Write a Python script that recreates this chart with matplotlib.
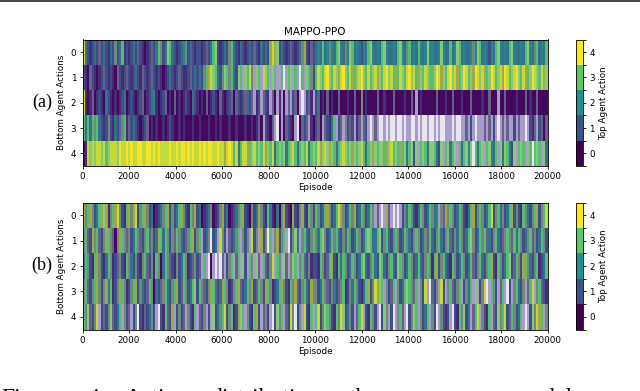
import numpy as np
import matplotlib
matplotlib.use("Agg")
import matplotlib.pyplot as plt
from matplotlib.colors import ListedColormap, BoundaryNorm
from matplotlib.cm import ScalarMappable
from matplotlib.lines import Line2D

title = "MAPPO-PPO"
xlabel = "Episode"
ylabel = "Bottom Agent Actions"
cbar_label = "Top Agent Action"
actions = [0, 1, 2, 3, 4]
xticks = list(range(0, 20001, 2000))
band_colors = ["#440154", "#3b528b", "#21918c", "#5ec962", "#fde725"]

# Stripe colour codes, as seen in the blended stripes of the picture
codes = "01234pmgoylwsk"
code_colors = ["#45085f", "#3d4f88", "#26868c", "#57bd74", "#f4e32c", "#472c78", "#66608c",
               "#6f8a7c", "#a0a848", "#c4da38", "#a99ccb", "#e9e6ef", "#37708c", "#8cc878"]

# One string per bottom-agent action, read left to right; each group spans 5000 episodes
panel_a = [
    "ys1p1s1m1s1ps1g1s3p1p1s1m1p0p1m1s3g1sk3s1p1s2g1s1p1"
    "1p1m1s3k1p1s1g3s1ps1p1s1m1ps1s1oyok1s1p1m1p1sgo1pm1"
    "s2s3s2g2s3k2sg2k3s2s12s3k2s2s3k2ss2s3k2sg3s2s32s2k2"
    "2ss2k2ss3s2k3s2ss2g2k3s2s12s3k2s2s3k2ss2s3k2sg3s2s3",
    "1p0m1p0p1m1p1p0m1p1m1p1s1pm1p1m1p1p0p1s1p1m1pp1m1s1"
    "s1g3oyk3s1gk3g3s1k3lk3yglk3lyk3lk3ll3wl3kl3lw3lk3g1"
    "3yk3y4k3ykoy4k3yo3ky4k3y3kyok3y4ky3o3yk3y4ky3ok3yk3"
    "3k4yok3y4kyo3k4y3ko4ykyo3k4y3kyo4y3ky4k3yo3k4yk3yok",
    "yp0pm0p1p0s1p0p0p1s0p1p0p1m0p1s2p0p1m0p0m0p0p1p0s1p"
    "0p0m0p1p0mp0p1m0m1p1ms1mlp1lm1plm0lpl0lml1m0lwl1mpl"
    "1s0p0m0p00m000p00m00g0p0000m00p000m0000p00m0l0p0000"
    "00m000p00m000p000m0000p00m000l00m0000p000m0p00m0000",
    "3s3s3g3s1p1g1ps1mg3pm1s1p0p1m0p0p00p0p1p00p0p000p00"
    "p000p00p0p000p00p000p00p0pm0l1p0mlw0l0m1p0lw0m1mlp0"
    "1m0lm1ps3l1mlg1m1lpmlm1lwlmlwwlwlwwlwwlwllwwlwlwwlw"
    "wlwlwwlllwlwwllml1lwlllmlml1lwlmlmll1lmllwl1pml1m0m",
    "0pykykyyky3kyyyk4yy4y4yy44yy44y4y4yyyy4yy4y44y4y4yy"
    "4y4y44yy4yyoy4y3ys3yyo3ky3k3yok3ys3k3ks3ky3s3k3ys3k"
    "3yokykok3s3kyk3kok3ky3s3kok3kk3oky3k3o3ks3k1kl3k3sk"
    "k3s1kl3ks3kl3s3k2kw3s3kl3k2s3lksk3s1kl3k3lk3w3k3lks",
]
panel_b = [
    "og3og1s3okopg3oyg1p3ogoy1g3og1s0p1sg3o1g1s3og1p3go1"
    "s0p1sg0p1go1s0p1sg3o1p0g1sog1p3sp0s0go1p0o1pgo1p3g1"
    "3g1s3og1s3yog1s3go1s3g1s3glmlwlomlwlwl1gs3g1ps3g1s3"
    "gs2lgmog3g1s3g1ps3o1g3g1s3y1g3sg1s3o1g1p3gs1g3o1g3y",
    "g3m1og3m1go3gm0go3gmg1s3gm1g3mg1so3s3g1gm3gs1mg3o1g"
    "3l1sgw1slyg1lm1sg3lg1gly1glo1gw3lgo1g3lw1gkslg3s1g3"
    "gs3kg1s3g3s1gs3g1s3g1s3k3ss3k1g3s1g3g1s3gs1g3g1sgm3"
    "s1g3s1g3m1gs3g1s3kg1s3g3ms1g3s1mg3gm3s3g1sg3mg1s3g1",
    "s3g1p3og1ps3gp1mg1p3gs1g1pg3m1gp3g0s3gm1pg1s3gp1mg1"
    "ml3lw0lwlwml1g3lm3lk1l3glkml3m1gyl3glkmlgk3lg3m1gp1"
    "1p3g1m3o1p3s3g1s3g1s3ks1g3s1k3s1g3s1k3g1s3g1s3s1g3g"
    "p3o1g3s1p3g1s3g1s3m1g3s1g3o1p3g1s3k1m3g1o3gs1g3p1s3",
    "g3m1g3og1gos3p1go3gp1g3o1gs1m3g0s1mg3s1g3o1m3g1s3k1"
    "3gm1go3m1so3gp1g3om1s3go1m3g1o3gp1s3og1p3gom1g3s1og"
    "g1s3gm1gs1mg3p1gs3g1ps3o1gyok3lg1m3lg1s3k3gm3lg1ylw"
    "m1gly1lg3m1g3l1gs3lkl1gywl3g1lm3lw1lg3s1glm3ylg3m1p",
    "3gkm1gyl1m1gkm1s3lg1ml1gw1pm1sg1lw1p3m1ol1g1mlg1p3l"
    "m1gl1lk1sg3y1g3p1ok3lg1p3o1lmg1lw1kg3lm1ygw1gly1p3l"
    "3y1gk3g1p3gyk1sg1lm3yl1p3g1lw1kgl1wlg3mlw1gk3lg1s3l"
    "g1wlg1p1lw1p3gk1slm3ylg1p3lm1kg3y1m3g1s3lwl1kgyo3lg",
]

stripe_cmap = ListedColormap(code_colors)
stripe_norm = BoundaryNorm(np.arange(len(codes) + 1) - 0.5, len(codes))
band_cmap = ListedColormap(band_colors)
band_norm = BoundaryNorm(np.arange(6) - 0.5, 5)

caption_parts = ["Figure", "4:", "Action", "distribution", "the", "model"]
caption_x_px = [1, 88, 125, 210, 350, 513]

W, H = 640, 391
fig = plt.figure(figsize=(W / 100, H / 100), dpi=100, facecolor="white")
plt.rcParams["font.family"] = "DejaVu Sans"


def draw(panel, top, bottom, with_title):
    ax = fig.add_axes([82.5 / W, 1 - bottom / H, 465 / W, (bottom - top) / H])
    for row, stripes in enumerate(panel):
        vals = np.array([[codes.index(c) for c in stripes]])
        edges = np.linspace(0, 20000, vals.shape[1] + 1)
        ax.pcolormesh(edges, [row - 0.5, row + 0.5], vals, cmap=stripe_cmap,
                      norm=stripe_norm, antialiased=False, linewidth=0)
    ax.set_xlim(0, 20000)
    ax.set_ylim(4.5, -0.5)
    ax.set_yticks(actions)
    ax.set_xticks(xticks)
    ax.tick_params(labelsize=6.3, length=2.5, width=0.6, pad=2)
    ax.set_xlabel(xlabel, fontsize=6.3, labelpad=1.5)
    ax.set_ylabel(ylabel, fontsize=6.3, labelpad=3)
    for s in ax.spines.values():
        s.set_linewidth(0.6)
    if with_title:
        ax.set_title(title, fontsize=7.5, pad=3)
    cax = fig.add_axes([576 / W, 1 - bottom / H, 7 / W, (bottom - top) / H])
    cb = fig.colorbar(ScalarMappable(norm=band_norm, cmap=band_cmap), cax=cax, ticks=actions)
    cb.ax.tick_params(labelsize=6.3, length=2.5, width=0.6, pad=2)
    cb.set_label(cbar_label, fontsize=6.3, labelpad=3)
    cb.outline.set_linewidth(0.6)


draw(panel_a, 39.5, 166, True)
draw(panel_b, 202.5, 329.5, False)

fig.text(42 / W, 1 - 102 / H, "(a)", family="Liberation Serif", fontsize=13, ha="center", va="center")
fig.text(42 / W, 1 - 265 / H, "(b)", family="Liberation Serif", fontsize=13, ha="center", va="center")
for word, x_px in zip(caption_parts, caption_x_px):
    fig.text(x_px / W, 1 - 404 / H, word, family="Liberation Serif",
             fontsize=17, ha="left", va="baseline")
fig.add_artist(Line2D([0, 1], [1 - 0.5 / H] * 2, color="#222222", lw=1.2, transform=fig.transFigure))

fig.savefig("out.png", dpi=100)
